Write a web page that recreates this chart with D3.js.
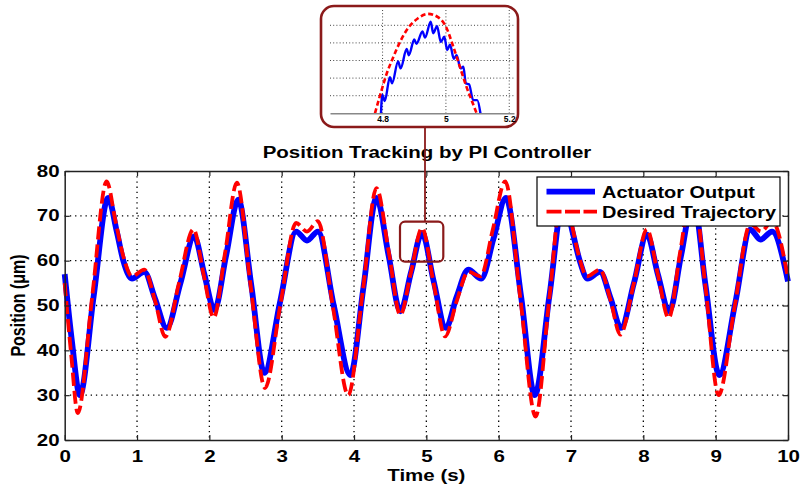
<!DOCTYPE html>
<html>
<head>
<meta charset="utf-8">
<script src="https://cdn.jsdelivr.net/npm/d3@7"></script>
<style>
  body { margin: 0; background: #fff; }
  text { font-family: "Liberation Sans", Arial, Helvetica, sans-serif; font-weight: bold; fill: #000; }
</style>
</head>
<body>
<svg id="chart" width="802" height="489"></svg>
<script>
// ---- Main plot data: desired trajectory (dashed red) and actuator output (solid blue)
const desiredTime = [0, 0.09, 0.18, 0.38, 0.58, 0.70, 0.81, 0.93, 1.10, 1.25, 1.39, 1.58, 1.78, 1.92, 2.06, 2.22, 2.38, 2.57, 2.77, 2.98, 3.20, 3.35, 3.50, 3.71, 3.92, 4.12, 4.31, 4.48, 4.64, 4.79, 4.94, 5.10, 5.26, 5.42, 5.58, 5.75, 5.92, 6.09, 6.30, 6.51, 6.70, 6.89, 7.00, 7.11, 7.22, 7.40, 7.55, 7.68, 7.87, 8.05, 8.20, 8.35, 8.51, 8.68, 8.86, 9.04, 9.26, 9.48, 9.63, 9.78, 10];
const desiredPos  = [55, 39, 26, 52, 77.7, 69, 61, 56.5, 58, 51, 43, 55, 67, 57, 47.3, 62, 77.4, 54.5, 31.6, 50, 68.4, 66.5, 68.8, 49.5, 30, 53, 76.2, 62, 47.9, 57.6, 67.3, 55, 43.1, 51, 57.5, 56.5, 67, 77.7, 51.5, 25.2, 51.5, 77.5, 69, 61, 56.5, 58, 51, 43.5, 55, 67, 57, 47.2, 62, 77, 54, 30, 49.5, 68.2, 66.5, 68.8, 56];

const actualTime = [0, 0.10, 0.21, 0.40, 0.60, 0.72, 0.81, 0.93, 1.10, 1.25, 1.41, 1.60, 1.79, 1.93, 2.07, 2.23, 2.40, 2.58, 2.76, 2.98, 3.20, 3.35, 3.50, 3.72, 3.95, 4.13, 4.31, 4.48, 4.64, 4.79, 4.94, 5.10, 5.27, 5.42, 5.58, 5.76, 5.93, 6.10, 6.31, 6.50, 6.70, 6.90, 7.02, 7.12, 7.23, 7.40, 7.55, 7.69, 7.87, 8.05, 8.20, 8.36, 8.52, 8.69, 8.86, 9.05, 9.27, 9.48, 9.62, 9.78, 10];
const actualPos  = [57, 42, 30, 52, 74, 66.5, 60, 56, 57.5, 51.5, 45, 55, 65.4, 57, 49, 61, 73.6, 54.5, 35, 51, 66.5, 64.5, 66.5, 50, 34.5, 54, 74, 61, 48.7, 57.5, 66.2, 55.5, 45, 52, 58, 56, 65, 74, 52, 30, 52, 74, 66.5, 60, 56, 57.5, 51.5, 45, 55, 65.8, 57, 48.7, 61, 73.6, 54.5, 34.5, 50.5, 66.9, 64.7, 66.5, 55.4];

const xTicks = [0, 1, 2, 3, 4, 5, 6, 7, 8, 9, 10];
const yTicks = [20, 30, 40, 50, 60, 70, 80];

// ---- Magnified view around the peak near t = 5 s
const insetDesiredTime = [4.776, 4.791, 4.813, 4.834, 4.855, 4.881, 4.912, 4.944, 4.976, 5.002, 5.023, 5.044, 5.065, 5.081, 5.097];
const insetDesiredPos  = [57.0, 58.9, 61.5, 63.4, 65.1, 66.7, 67.8, 68.3, 67.9, 66.7, 64.6, 62.3, 60.0, 58.5, 57.0];
const insetActualTime = [4.795, 4.799, 4.807, 4.823, 4.830, 4.849, 4.857, 4.876, 4.883, 4.900, 4.907, 4.926, 4.934, 4.952, 4.960, 4.972, 4.984, 4.995, 5.004, 5.013, 5.025, 5.034, 5.046, 5.055, 5.063, 5.073, 5.086, 5.099, 5.109];
const insetActualPos  = [57.0, 59.1, 58.4, 61.1, 60.4, 62.9, 62.1, 64.3, 63.6, 65.4, 64.9, 66.3, 65.6, 67.4, 66.1, 66.9, 65.1, 65.7, 64.2, 64.8, 63.2, 63.6, 62.1, 62.3, 60.4, 60.3, 58.5, 58.5, 57.0];
const insetXTicks = [4.8, 5, 5.2];
const insetYGrid = [59, 61, 63, 65, 67];

const seriesNames = ["Actuator Output", "Desired Trajectory"];
const titleText = "Position Tracking by PI Controller";

// ---- Layout
const svg = d3.select("#chart");
const plot = { left: 64.7, right: 788, top: 171, bottom: 440 };
const x = d3.scaleLinear().domain([0, 10]).range([plot.left, plot.right]);
const y = d3.scaleLinear().domain([20, 80]).range([plot.bottom, plot.top]);
const wide = 1.28;            // horizontal stretch of the lettering
const boxRed = "#8b1a1a";

// Stretched text helper
function label(parent, str, px, py, size, anchor, rotate) {
  return parent.append("text")
    .attr("transform", `translate(${px},${py}) scale(${wide},1)` + (rotate ? " rotate(-90)" : ""))
    .attr("text-anchor", anchor)
    .attr("font-size", size)
    .text(str);
}

// Dotted grid
const grid = svg.append("g").attr("stroke", "#000").attr("stroke-width", 1.3).attr("stroke-dasharray", "1.3,3.9");
grid.selectAll(".gx").data(xTicks.slice(1, -1)).join("line")
  .attr("x1", d => x(d)).attr("x2", d => x(d)).attr("y1", plot.top).attr("y2", plot.bottom);
grid.selectAll(".gy").data(yTicks.slice(1, -1)).join("line")
  .attr("y1", d => y(d)).attr("y2", d => y(d)).attr("x1", plot.left).attr("x2", plot.right);

// Curves
const lineMain = d3.line().x(d => x(d[0])).y(d => y(d[1])).curve(d3.curveMonotoneX);
svg.append("path")
  .datum(d3.zip(actualTime, actualPos))
  .attr("d", lineMain).attr("fill", "none")
  .attr("stroke", "#0000ff").attr("stroke-width", 5.8).attr("stroke-linejoin", "round");
svg.append("path")
  .datum(d3.zip(desiredTime, desiredPos))
  .attr("d", lineMain).attr("fill", "none")
  .attr("stroke", "#ff0000").attr("stroke-width", 3.8).attr("stroke-dasharray", "13,5");

// Axes with inward ticks on all four sides
const axisStyle = g => {
  g.selectAll(".domain").attr("stroke", "#222").attr("stroke-width", 1.5);
  g.selectAll(".tick line").attr("stroke", "#222").attr("stroke-width", 1.2);
};
const xAxis = svg.append("g").attr("transform", `translate(0,${plot.bottom})`)
  .call(d3.axisBottom(x).tickValues(xTicks).tickSizeInner(-5).tickSizeOuter(0).tickPadding(10.5))
  .call(axisStyle);
xAxis.selectAll("text").attr("font-size", 16).attr("fill", "#000")
  .attr("font-family", null).attr("transform", `scale(${wide},1)`);
const yAxis = svg.append("g").attr("transform", `translate(${plot.left},0)`)
  .call(d3.axisLeft(y).tickValues(yTicks).tickSizeInner(-5).tickSizeOuter(0).tickPadding(4))
  .call(axisStyle);
yAxis.selectAll("text").attr("font-size", 16).attr("fill", "#000")
  .attr("font-family", null).attr("transform", `scale(${wide},1)`);
svg.append("g").attr("transform", `translate(0,${plot.top})`)
  .call(d3.axisTop(x).tickValues(xTicks).tickSizeInner(-5).tickSizeOuter(0).tickFormat(""))
  .call(axisStyle);
svg.append("g").attr("transform", `translate(${plot.right},0)`)
  .call(d3.axisRight(y).tickValues(yTicks).tickSizeInner(-5).tickSizeOuter(0).tickFormat(""))
  .call(axisStyle);

// Titles
label(svg, "Time (s)", (plot.left + plot.right) / 2, 481, 16, "middle");
label(svg, "Position (\u03bcm)", 24.5, (plot.top + plot.bottom) / 2, 16, "middle", true);
label(svg, titleText, 427, 158, 16, "middle");

// Legend
const lg = svg.append("g");
lg.append("rect").attr("x", 537).attr("y", 177).attr("width", 243).attr("height", 49)
  .attr("fill", "#fff").attr("stroke", "#000").attr("stroke-width", 1.2);
lg.append("line").attr("x1", 546.5).attr("x2", 595).attr("y1", 191.7).attr("y2", 191.7)
  .attr("stroke", "#0000ff").attr("stroke-width", 5.8);
lg.append("line").attr("x1", 546.5).attr("x2", 597).attr("y1", 211.7).attr("y2", 211.7)
  .attr("stroke", "#ff0000").attr("stroke-width", 3.8).attr("stroke-dasharray", "15,3.5");
label(lg, seriesNames[0], 602, 197.5, 15.6, "start");
label(lg, seriesNames[1], 602, 217.5, 15.6, "start");

// Highlight box around the peak near t = 5 s and its connector
svg.append("rect").attr("x", 400).attr("y", 221.7).attr("width", 43.3).attr("height", 40).attr("rx", 5)
  .attr("fill", "none").attr("stroke", boxRed).attr("stroke-width", 2.2);
svg.append("line").attr("x1", 425).attr("x2", 425).attr("y1", 127).attr("y2", 221.7)
  .attr("stroke", boxRed).attr("stroke-width", 1.8);

// ---- Magnified inset
const inset = svg.append("g");
inset.append("rect").attr("x", 321).attr("y", 6).attr("width", 197).attr("height", 121).attr("rx", 13)
  .attr("fill", "#fff").attr("stroke", boxRed).attr("stroke-width", 2.6);
const ix = d3.scaleLinear().domain([4.634, 5.215]).range([330, 514]);
const iy = d3.scaleLinear().domain([57, 69]).range([113.3, 7.7]);
const igrid = inset.append("g").attr("stroke", "#444").attr("stroke-width", 1).attr("stroke-dasharray", "1,2.2");
igrid.selectAll(".iy").data(insetYGrid).join("line")
  .attr("x1", 330).attr("x2", 514).attr("y1", d => iy(d)).attr("y2", d => iy(d));
igrid.selectAll(".ix").data(insetXTicks).join("line")
  .attr("x1", d => ix(d)).attr("x2", d => ix(d)).attr("y1", 10).attr("y2", 113.3);
const lineInset = d3.line().x(d => ix(d[0])).y(d => iy(d[1])).curve(d3.curveMonotoneX);
inset.append("path").datum(d3.zip(insetActualTime, insetActualPos))
  .attr("d", lineInset).attr("fill", "none").attr("stroke", "#0000ff").attr("stroke-width", 2.4);
inset.append("path").datum(d3.zip(insetDesiredTime, insetDesiredPos))
  .attr("d", lineInset).attr("fill", "none").attr("stroke", "#ff0000").attr("stroke-width", 2.6)
  .attr("stroke-dasharray", "5,2.8");
const iAxis = inset.append("g").attr("transform", "translate(0,113.3)")
  .call(d3.axisBottom(ix).tickValues(insetXTicks).tickSize(0).tickPadding(3).tickFormat(d3.format("")));
iAxis.select(".domain").attr("stroke", "#888").attr("stroke-width", 1.6);
iAxis.selectAll("text").attr("font-size", 8.5).attr("font-family", null).attr("fill", "#000");
</script>
</body>
</html>
